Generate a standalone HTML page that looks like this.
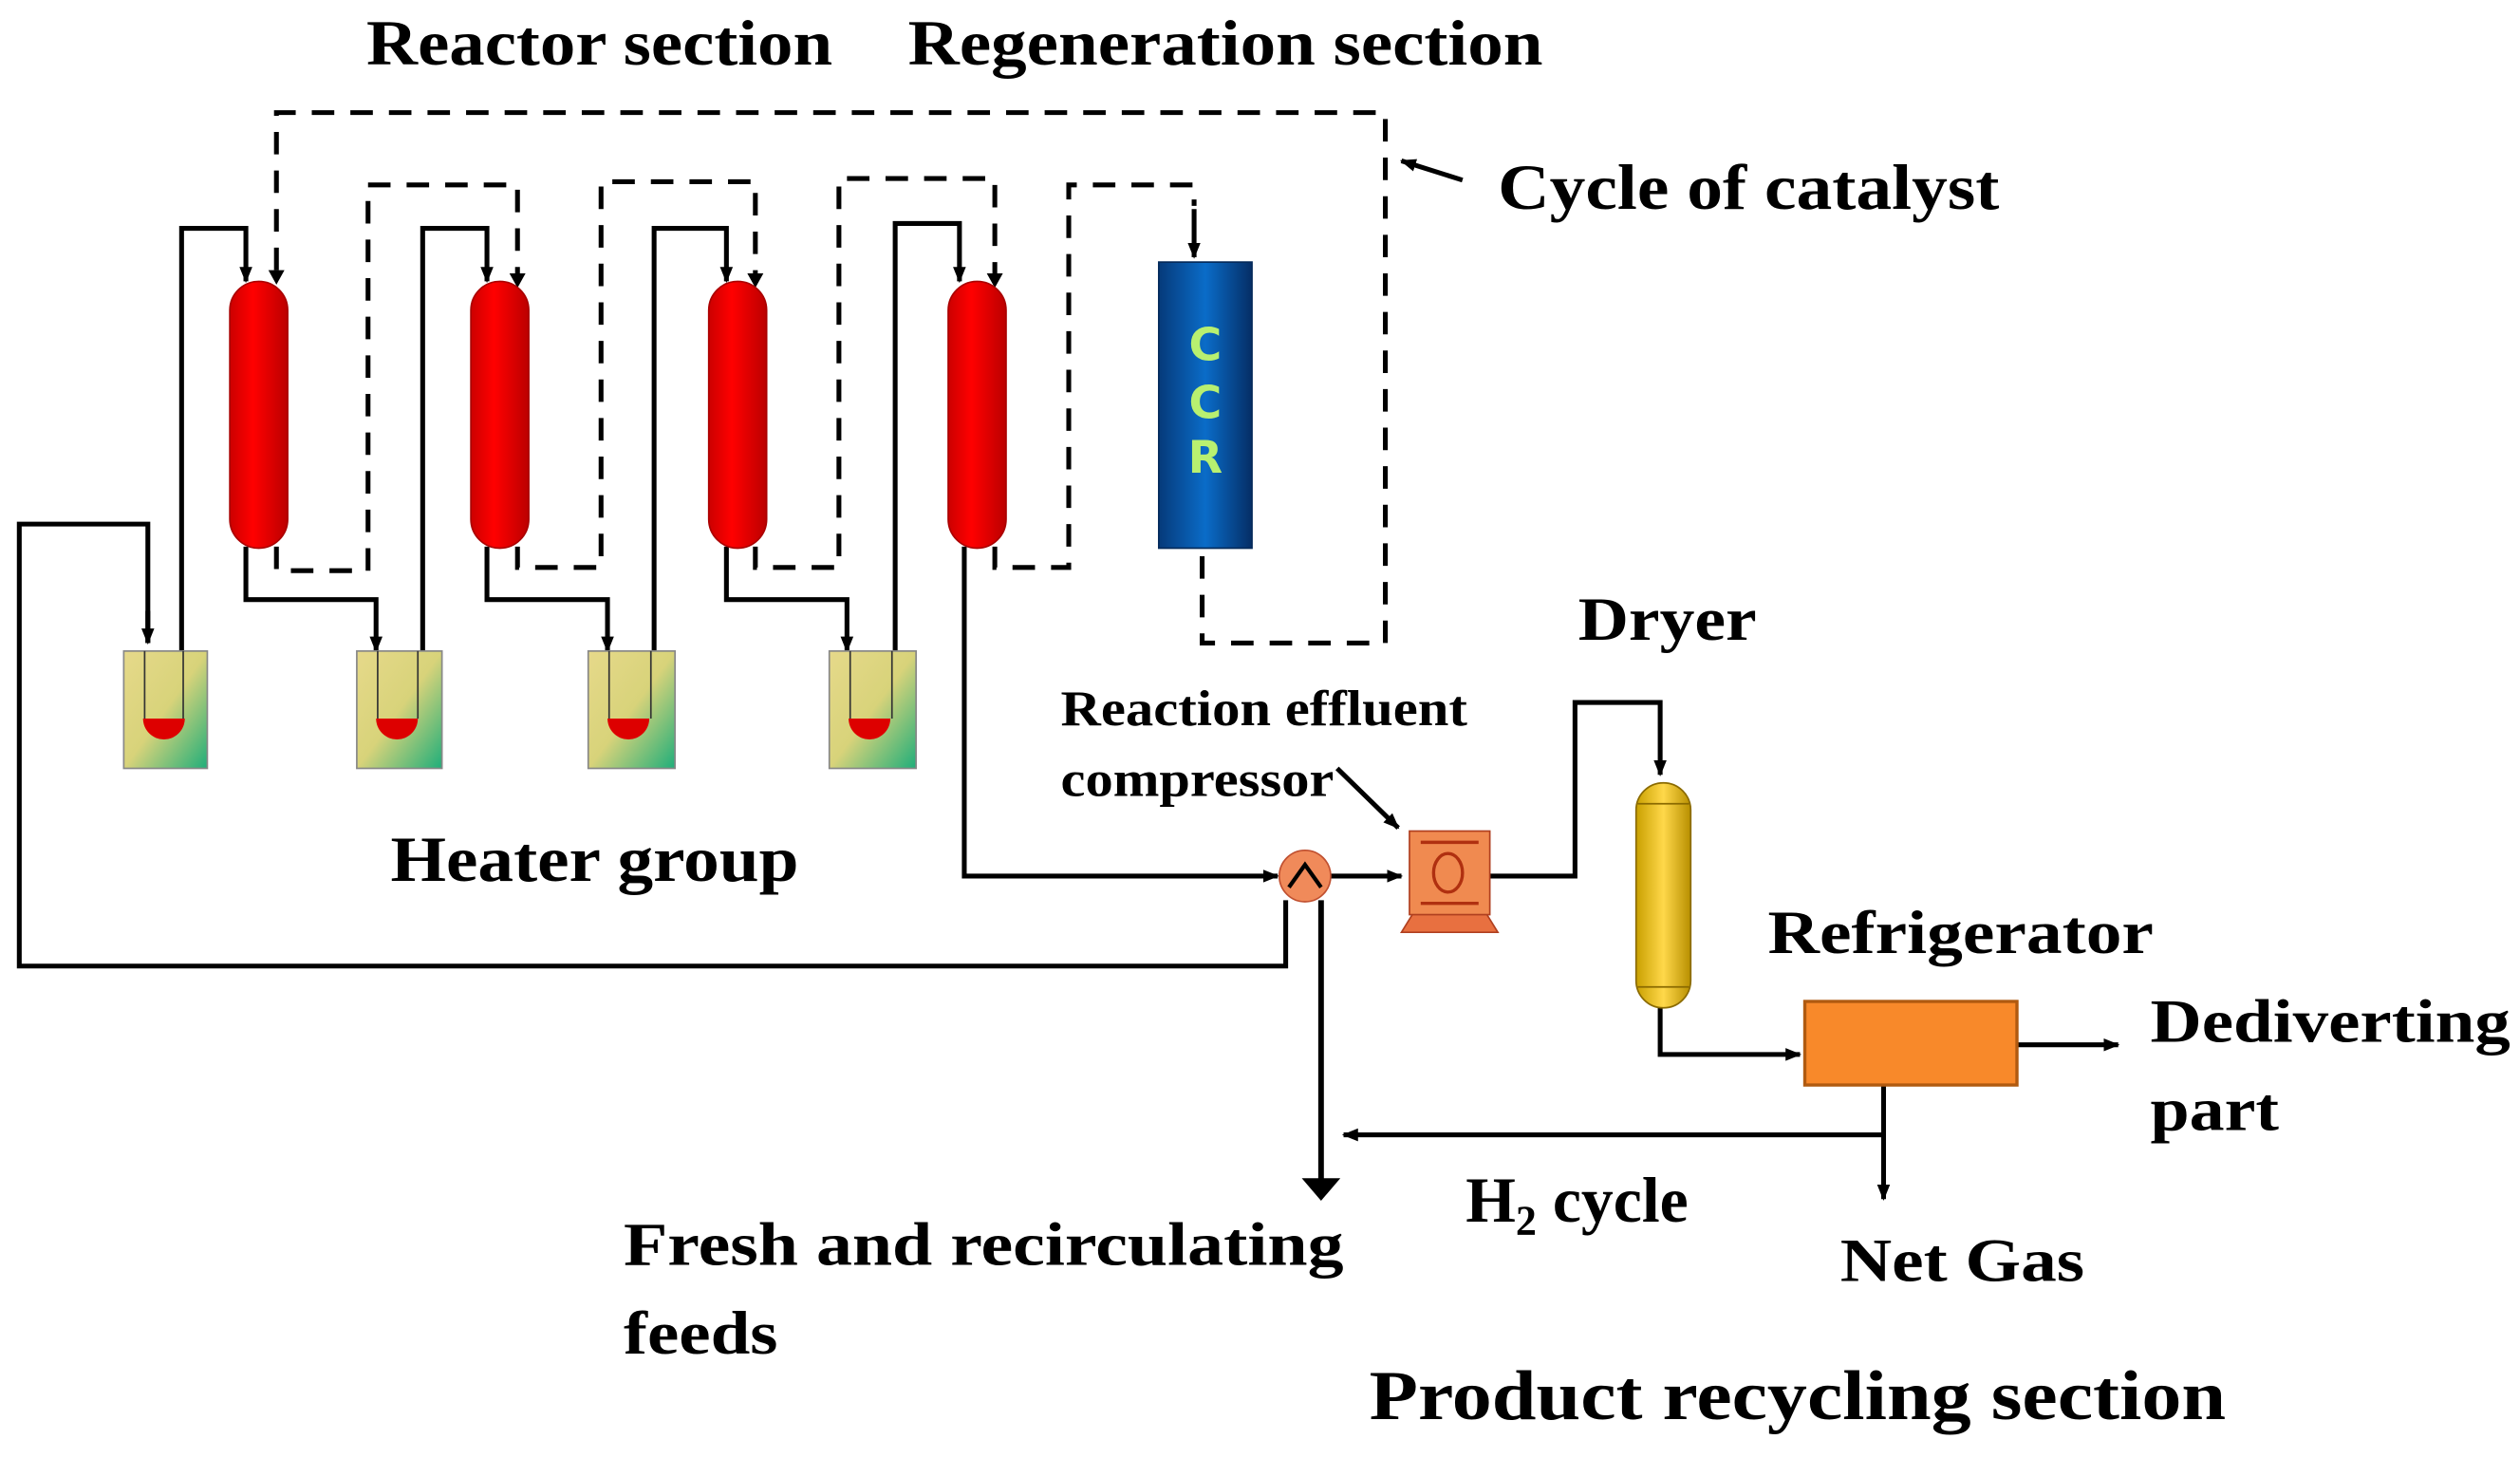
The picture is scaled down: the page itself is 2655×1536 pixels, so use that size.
<!DOCTYPE html>
<html><head><meta charset="utf-8"><style>html,body{margin:0;padding:0;background:#fff}svg{display:block}</style></head><body>
<svg width="2655" height="1536" viewBox="0 0 1568 907" xmlns="http://www.w3.org/2000/svg" font-family="'Liberation Serif',serif" font-weight="bold">
<defs>
<marker id="a" markerWidth="10" markerHeight="10" refX="9" refY="5" orient="auto" markerUnits="userSpaceOnUse"><path d="M0,1 L10,5 L0,9 z" fill="#000"/></marker>
<linearGradient id="red" x1="0" x2="1"><stop offset="0" stop-color="#c00"/><stop offset=".4" stop-color="#f00"/><stop offset="1" stop-color="#b00"/></linearGradient>
<linearGradient id="blue" x1="0" x2="1"><stop offset="0" stop-color="#063a7a"/><stop offset=".5" stop-color="#0a6cc8"/><stop offset="1" stop-color="#052e66"/></linearGradient>
<linearGradient id="heat" x1="0" y1="0" x2="1" y2="1"><stop offset="0" stop-color="#e6d98a"/><stop offset=".5" stop-color="#d8d37a"/><stop offset="1" stop-color="#1fae7a"/></linearGradient>
<linearGradient id="yel" x1="0" x2="1"><stop offset="0" stop-color="#c9a000"/><stop offset=".5" stop-color="#ffd84a"/><stop offset="1" stop-color="#b88f00"/></linearGradient>
</defs>
<g fill="#000">
<text x="228" y="40" font-size="40" textLength="290" lengthAdjust="spacingAndGlyphs">Reactor section</text>
<text x="565" y="40" font-size="40" textLength="395" lengthAdjust="spacingAndGlyphs">Regeneration section</text>
<text x="932" y="130" font-size="40" textLength="312" lengthAdjust="spacingAndGlyphs">Cycle of catalyst</text>
<text x="243" y="548" font-size="40" textLength="254" lengthAdjust="spacingAndGlyphs">Heater group</text>
<text x="982" y="398" font-size="38" textLength="111" lengthAdjust="spacingAndGlyphs">Dryer</text>
<text x="660" y="451" font-size="31" textLength="253" lengthAdjust="spacingAndGlyphs">Reaction effluent</text>
<text x="660" y="495" font-size="31" textLength="170" lengthAdjust="spacingAndGlyphs">compressor</text>
<text x="1100" y="593" font-size="38" textLength="240" lengthAdjust="spacingAndGlyphs">Refrigerator</text>
<text x="1338" y="648" font-size="38" textLength="224" lengthAdjust="spacingAndGlyphs">Dediverting</text>
<text x="1338" y="703" font-size="38" textLength="80" lengthAdjust="spacingAndGlyphs">part</text>
<text x="912" y="760" font-size="40">H<tspan font-size="26" dy="8">2</tspan><tspan dy="-8"> cycle</tspan></text>
<text x="1145" y="797" font-size="38" textLength="152" lengthAdjust="spacingAndGlyphs">Net Gas</text>
<text x="388" y="787" font-size="38" textLength="448" lengthAdjust="spacingAndGlyphs">Fresh and recirculating</text>
<text x="388" y="842" font-size="38" textLength="96" lengthAdjust="spacingAndGlyphs">feeds</text>
<text x="852" y="883" font-size="44" textLength="533" lengthAdjust="spacingAndGlyphs">Product recycling section</text>
</g>
<g fill="none" stroke="#000" stroke-width="3" stroke-dasharray="14,10">
<path d="M172,168 V70 H862 V400 H748 V345"/>
<path d="M172,340 V355 H229 V115 H322 V170"/>
<path d="M322,340 V353 H374 V113 H470 V170"/>
<path d="M470,340 V353 H522 V111 H619 V170"/>
<path d="M619,340 V353 H665 V115 H743 V128"/>
</g>
<g fill="#000"><path d="M167,168 h10 l-5,9z M317,170 h10 l-5,9z M465,170 h10 l-5,9z M614,170 h10 l-5,9z"/></g>
<g fill="none" stroke="#000" stroke-width="3">
<path d="M113,405 V142 H153 V175" marker-end="url(#a)"/>
<path d="M263,405 V142 H303 V175" marker-end="url(#a)"/>
<path d="M407,405 V142 H452 V175" marker-end="url(#a)"/>
<path d="M557,405 V139 H597 V175" marker-end="url(#a)"/>
<path d="M153,340 V373 H234 V405" marker-end="url(#a)"/>
<path d="M303,340 V373 H378 V405" marker-end="url(#a)"/>
<path d="M452,340 V373 H527 V405" marker-end="url(#a)"/>
<path d="M600,340 V545 H795" marker-end="url(#a)"/>
<path d="M92,400 V326 H12 V601 H800 V560"/>
<path d="M92,380 V400" marker-end="url(#a)"/>
<path d="M743,130 V160" marker-end="url(#a)"/>
<path d="M828,545 H872" marker-end="url(#a)"/>
<path d="M832,478 L870,515" marker-end="url(#a)"/>
<path d="M927,545 H980 V437 H1033 V482" marker-end="url(#a)"/>
<path d="M1033,627 V656 H1120" marker-end="url(#a)"/>
<path d="M1255,650 H1318" marker-end="url(#a)"/>
<path d="M1172,675 V746" marker-end="url(#a)"/>
<path d="M1172,706 H836" marker-end="url(#a)"/>
<path d="M910,112 L872,100" marker-end="url(#a)"/>
</g>
<path d="M822,560 V735" stroke="#000" stroke-width="3.5"/>
<path d="M810,733 h24 l-12,14z" fill="#000"/>
<g fill="url(#red)" stroke="#a00" stroke-width="1">
<rect x="143" y="175" width="36" height="166" rx="18"/>
<rect x="293" y="175" width="36" height="166" rx="18"/>
<rect x="441" y="175" width="36" height="166" rx="18"/>
<rect x="590" y="175" width="36" height="166" rx="18"/>
</g>
<g>
<g transform="translate(77,405)"><rect width="52" height="73" fill="url(#heat)" stroke="#888"/><path d="M12,42 h26 a13,13 0 0 1 -26,0z" fill="#d00"/><path d="M13,0 V42 M37,0 V42" stroke="#333" fill="none"/></g>
<g transform="translate(222,405)"><rect width="53" height="73" fill="url(#heat)" stroke="#888"/><path d="M12,42 h26 a13,13 0 0 1 -26,0z" fill="#d00"/><path d="M13,0 V42 M38,0 V42" stroke="#333" fill="none"/></g>
<g transform="translate(366,405)"><rect width="54" height="73" fill="url(#heat)" stroke="#888"/><path d="M12,42 h26 a13,13 0 0 1 -26,0z" fill="#d00"/><path d="M13,0 V42 M39,0 V42" stroke="#333" fill="none"/></g>
<g transform="translate(516,405)"><rect width="54" height="73" fill="url(#heat)" stroke="#888"/><path d="M12,42 h26 a13,13 0 0 1 -26,0z" fill="#d00"/><path d="M13,0 V42 M39,0 V42" stroke="#333" fill="none"/></g>
</g>
<rect x="721" y="163" width="58" height="178" fill="url(#blue)" stroke="#042a5a"/>
<g fill="#b8f070" font-family="'DejaVu Sans',sans-serif" font-size="28" text-anchor="middle"><text x="750" y="224">C</text><text x="750" y="260">C</text><text x="750" y="294">R</text></g>
<circle cx="812" cy="545" r="16" fill="#f08a5a" stroke="#c05030"/>
<path d="M802,552 L812,538 L822,552" fill="none" stroke="#000" stroke-width="2.5"/>
<path d="M872,580 L880,567 H924 L932,580z" fill="#e87040" stroke="#b04020"/>
<rect x="877" y="517" width="50" height="52" fill="#f08a50" stroke="#b04020"/>
<path d="M884,524 H920 M884,562 H920" stroke="#b03010" stroke-width="2"/>
<ellipse cx="901" cy="543" rx="9" ry="12" fill="none" stroke="#b03010" stroke-width="2"/>
<rect x="1018" y="487" width="34" height="140" rx="17" fill="url(#yel)" stroke="#8a6a00"/>
<path d="M1019,500 H1051 M1019,614 H1051" stroke="#8a6a00"/>
<rect x="1123" y="623" width="132" height="52" fill="#f8892a" stroke="#b05a10" stroke-width="2"/>
</svg>
</body></html>
